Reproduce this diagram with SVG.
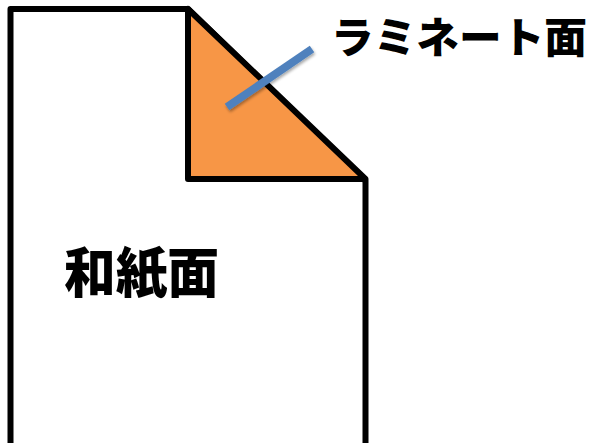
<svg xmlns="http://www.w3.org/2000/svg" width="600" height="443" viewBox="0 0 600 443">
<style>
.outline{fill:#ffffff;stroke:#000000;stroke-width:6;stroke-linejoin:round}
.lbl{font-family:"Noto Sans CJK JP","Noto Sans CJK SC",sans-serif;font-weight:900;fill:#000000}
</style>
<defs>
<filter id="sh" x="-20%" y="-20%" width="140%" height="140%">
<feGaussianBlur in="SourceAlpha" stdDeviation="1.5"/>
<feOffset dx="1" dy="2" result="b"/>
<feComponentTransfer><feFuncA type="linear" slope="0.35"/></feComponentTransfer>
<feMerge><feMergeNode/><feMergeNode in="SourceGraphic"/></feMerge>
</filter>
</defs>
<g id="page">
<path class="outline" d="M10.5,448 V9 H188 L365.5,181 V448 Z"/>
</g>
<g id="fold">
<path class="outline" style="fill:#F79646" d="M188,9 V179 H365.5 Z"/>
</g>
<g id="connectors">
<line x1="227" y1="107" x2="312" y2="49" stroke="#4F81BD" stroke-width="8" filter="url(#sh)"/>
</g>
<g id="laminate-label">
<text class="lbl" x="331" y="53" font-size="42" textLength="256" lengthAdjust="spacingAndGlyphs">ラミネート面</text>
</g>
<g id="washi-label">
<text class="lbl" x="64" y="293" font-size="54" textLength="155" lengthAdjust="spacingAndGlyphs">和紙面</text>
</g>
</svg>
